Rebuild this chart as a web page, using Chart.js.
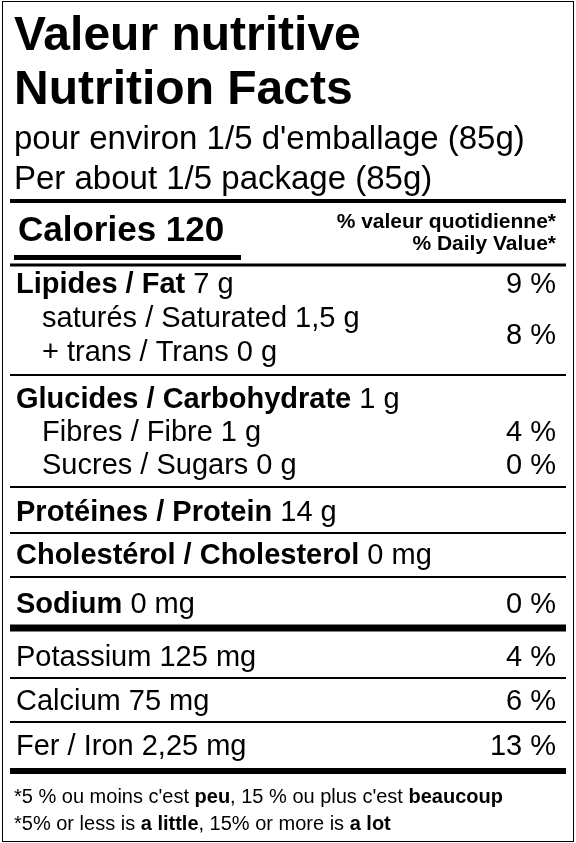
<!DOCTYPE html>
<html>
<head>
<meta charset="utf-8">
<script src="https://cdn.jsdelivr.net/npm/chart.js@4.4.1/dist/chart.umd.min.js"></script>
<style>
  html, body { margin: 0; padding: 0; background: #fff; }
  #wrap { width: 576px; height: 843px; }
</style>
</head>
<body>
<div id="wrap"><canvas id="label"></canvas></div>
<script>
const titleLines = ["Valeur nutritive", "Nutrition Facts"];
const servingLines = ["pour environ 1/5 d'emballage (85g)", "Per about 1/5 package (85g)"];
const calories = 120;
const dvHeader = ["% valeur quotidienne*", "% Daily Value*"];

const rowBold = ["Lipides / Fat", "", "", "Glucides / Carbohydrate", "", "", "Protéines / Protein", "Cholestérol / Cholesterol", "Sodium", "", "", ""];
const rowPlain = [" 7 g", "saturés / Saturated 1,5 g", "+ trans / Trans 0 g", " 1 g", "Fibres / Fibre 1 g", "Sucres / Sugars 0 g", " 14 g", " 0 mg", " 0 mg", "Potassium 125 mg", "Calcium 75 mg", "Fer / Iron 2,25 mg"];
const rowDV = ["9 %", "", "", "", "4 %", "0 %", "", "", "0 %", "4 %", "6 %", "13 %"];
const rowIndent = [false, true, true, false, true, true, false, false, false, false, false, false];
const rowY = [293, 327, 361, 408, 441, 474, 521, 564, 613, 666, 710, 755];
const satTransDV = "8 %";
const footnotes = [
  [["*5 % ou moins c'est ", false], ["peu", true], [", 15 % ou plus c'est ", false], ["beaucoup", true]],
  [["*5% or less is ", false], ["a little", true], [", 15% or more is ", false], ["a lot", true]]
];

const F = "'Liberation Sans', Arial, sans-serif";
const L = 10, R = 566, TX = 556;

const labelPlugin = {
  id: "nutritionLabel",
  afterDraw(chart) {
    const c = chart.ctx;
    c.save();
    c.fillStyle = "#fff";
    c.fillRect(0, 0, 576, 843);
    c.strokeStyle = "#000";
    c.lineWidth = 1;
    c.strokeRect(2.5, 1.5, 571, 840);
    c.fillStyle = "#000";
    c.textBaseline = "alphabetic";
    c.textAlign = "left";

    c.font = "bold 48px " + F;
    c.fillText(titleLines[0], 14, 50);
    c.fillText(titleLines[1], 14, 104);
    c.font = "33px " + F;
    c.fillText(servingLines[0], 14, 149);
    c.fillText(servingLines[1], 14, 189);

    const hline = (y, w) => c.fillRect(L, y - w / 2, R - L, w);
    hline(201, 4);

    c.font = "bold 35px " + F;
    c.fillText("Calories " + calories, 18, 241);
    c.fillRect(14, 255, 227, 5);
    c.textAlign = "right";
    c.font = "bold 21px " + F;
    c.fillText(dvHeader[0], TX, 228);
    c.fillText(dvHeader[1], TX, 250);
    hline(265, 3);

    for (let i = 0; i < rowY.length; i++) {
      const x = rowIndent[i] ? 42 : 16;
      const y = rowY[i];
      c.textAlign = "left";
      let cx = x;
      if (rowBold[i]) {
        c.font = "bold 29px " + F;
        c.fillText(rowBold[i], cx, y);
        cx += c.measureText(rowBold[i]).width;
      }
      c.font = "29px " + F;
      c.fillText(rowPlain[i], cx, y);
      if (rowDV[i]) {
        c.textAlign = "right";
        c.fillText(rowDV[i], TX, y);
      }
    }
    c.textAlign = "right";
    c.font = "29px " + F;
    c.fillText(satTransDV, TX, 344);

    hline(375, 2);
    hline(487, 2);
    hline(533, 2);
    hline(577, 2);
    hline(628, 7);
    hline(678, 2);
    hline(722, 2);
    hline(771, 6);

    c.textAlign = "left";
    [803, 830].forEach((y, k) => {
      let cx = 14;
      footnotes[k].forEach(([t, b]) => {
        c.font = (b ? "bold " : "") + "20px " + F;
        c.fillText(t, cx, y);
        cx += c.measureText(t).width;
      });
    });
    c.restore();
  }
};

new Chart(document.getElementById("label"), {
  type: "bar",
  data: { labels: [], datasets: [] },
  options: {
    responsive: true,
    maintainAspectRatio: false,
    animation: false,
    plugins: { legend: { display: false }, tooltip: { enabled: false } },
    scales: { x: { display: false }, y: { display: false } }
  },
  plugins: [labelPlugin]
});
</script>
</body>
</html>
